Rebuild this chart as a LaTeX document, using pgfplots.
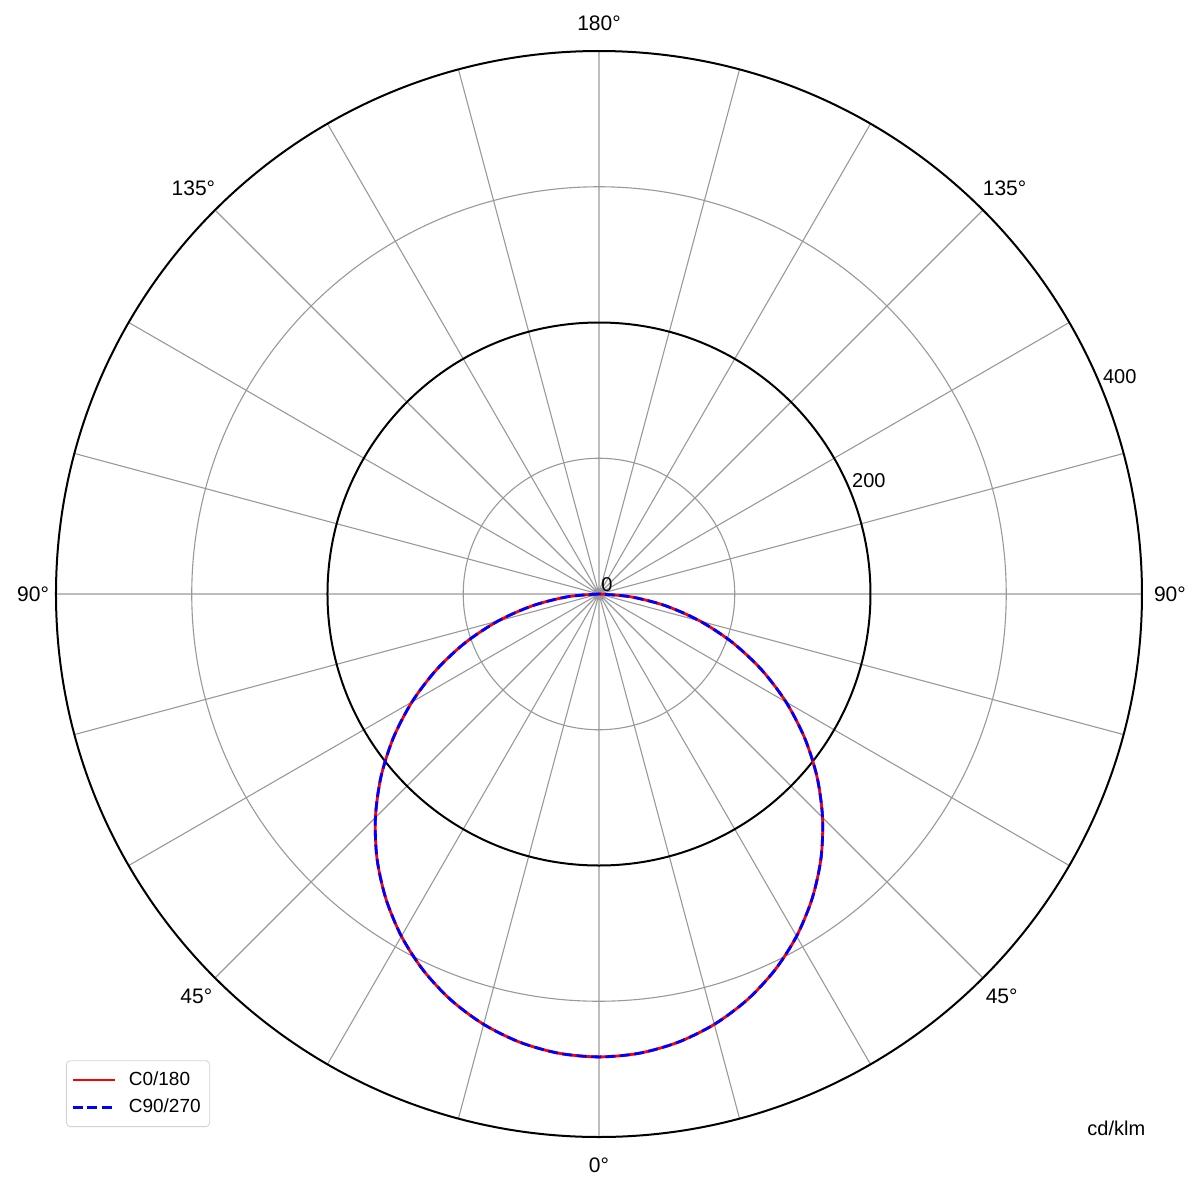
\documentclass[border=0pt]{standalone}
\usepackage{fontspec}
\setmainfont{Liberation Sans}
\usepackage{pgfplots}
\pgfplotsset{compat=1.18}
\usepgfplotslibrary{polar}
\begin{document}
\begin{tikzpicture}
\begin{polaraxis}[
  at={(0,0)}, anchor=origin,
  width=543pt, height=543pt, scale only axis,
  clip=false,
  xmin=0, xmax=360,
  ymin=0, ymax=400,
  xtick={0,15,...,345},
  xticklabels={\hspace{2.5pt}90°,{},{},135°,{},{},{180°\rule[-6.5pt]{0pt}{6.5pt}},{},{},135°\hspace{1.5pt},{},{},90°\hspace{2pt},{},{},45°,{},{},{\rule{0pt}{14pt}0°},{},{},45°,{},{}},
  xticklabel style={font=\fontsize{10.5}{12}\selectfont},
  ytick={100,300},
  yticklabels={},
  extra y ticks={200},
  extra y tick labels={},
  extra y tick style={grid=major, major grid style={black, line width=1pt}},
  grid=major,
  major grid style={color=gray!80, line width=0.55pt},
  x axis line style={black, line width=1pt},
  y axis line style={draw=none},
  xtick style={draw=none},
  ytick style={draw=none},
  legend style={at={(0.0092,0.0092)}, anchor=south west, draw=gray!35, rounded corners=2pt,
    font=\fontsize{9.5}{11}\selectfont, cells={anchor=west}, row sep=1.2pt, column sep=4pt,
    inner xsep=2.5pt, inner ysep=3.5pt},
  legend image code/.code={\draw[#1] (0cm,0cm) -- (0.75cm,0cm);},
]
\addplot[red, line width=1.4pt, smooth] coordinates {
 (180,0) (185,23.3) (190,49.7) (195,77.1) (200,104.8) (205,132.2) (210,159.1) (215,185.0)
 (220,209.7) (225,232.9) (230,254.4) (235,273.8) (240,291.1) (245,306.0) (250,318.4)
 (255,328.2) (260,335.3) (265,339.6) (270,341.0) (275,339.6) (280,335.3) (285,328.2)
 (290,318.4) (295,306.0) (300,291.1) (305,273.8) (310,254.4) (315,232.9) (320,209.7)
 (325,185.0) (330,159.1) (335,132.2) (340,104.8) (345,77.1) (350,49.7) (355,23.3) (360,0)
};
\addlegendentry{C0/180}
\addplot[blue, line width=1.4pt, dash pattern=on 5pt off 2.2pt, smooth] coordinates {
 (180,0) (185,23.3) (190,49.7) (195,77.1) (200,104.8) (205,132.2) (210,159.1) (215,185.0)
 (220,209.7) (225,232.9) (230,254.4) (235,273.8) (240,291.1) (245,306.0) (250,318.4)
 (255,328.2) (260,335.3) (265,339.6) (270,341.0) (275,339.6) (280,335.3) (285,328.2)
 (290,318.4) (295,306.0) (300,291.1) (305,273.8) (310,254.4) (315,232.9) (320,209.7)
 (325,185.0) (330,159.1) (335,132.2) (340,104.8) (345,77.1) (350,49.7) (355,23.3) (360,0)
};
\addlegendentry{C90/270}
\node[anchor=south west, inner sep=1pt, font=\fontsize{10}{12}\selectfont] at (axis cs:22.5,0) {0};
\node[anchor=south west, inner sep=1pt, font=\fontsize{10}{12}\selectfont] at (axis cs:22.5,200) {200};
\node[anchor=south west, inner sep=1pt, font=\fontsize{10}{12}\selectfont] at (axis cs:22.5,400) {400};
\end{polaraxis}
\node[anchor=base west, inner sep=0pt, font=\fontsize{10}{12}\selectfont] at (244pt,-270.5pt) {cd/klm};
\pgfresetboundingbox
\path[use as bounding box] (-299.5pt,-297.5pt) rectangle (300.5pt,297pt);
\end{tikzpicture}
\end{document}
